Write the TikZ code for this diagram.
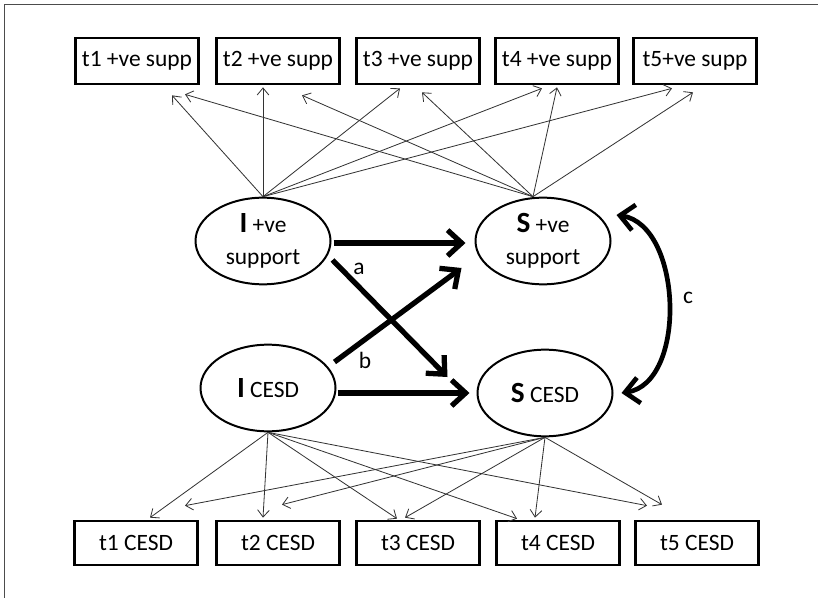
\documentclass[tikz,border=0pt]{standalone}
\usepackage{fontspec}
\setmainfont{Carlito}
\usetikzlibrary{arrows.meta,shapes.geometric}

\begin{document}
\begin{tikzpicture}[x=0.03cm,y=-0.03cm,
	font=\fontsize{20}{27}\selectfont,
	latent/.style={draw,ellipse,line width=1.7pt,inner sep=0pt,
		minimum width=4.05cm,minimum height=2.6cm,align=center},
	obsbox/.style={draw,rectangle,line width=2.3pt,inner sep=0pt,
		minimum width=3.7cm,minimum height=1.38cm},
	loading/.style={-{Straight Barb[length=6pt,width=10pt]},line width=0.7pt,draw=black!80},
	regpath/.style={-{Straight Barb[length=12pt,width=22pt]},line width=4.5pt},
	corr/.style={{Straight Barb[length=12pt,width=22pt]}-{Straight Barb[length=12pt,width=22pt]},
		line width=4pt}]
\useasboundingbox (0,0) rectangle (818,598);
\draw[black!70,line width=0.8pt] (4,598) -- (4,4) -- (818,4);
\def\big#1{{\fontsize{25}{27}\selectfont\bfseries #1}}

% observed boxes
\foreach \cx/\txt [count=\i] in {137/t1 +ve supp,278/t2 +ve supp,418/t3 +ve supp,
		557/t4 +ve supp,695/t5+ve supp}{
	\node[obsbox] (p\i) at (\cx,61) {\txt};
}
\foreach \cx [count=\i] in {136,278,418,558,697}{
	\node[obsbox,minimum height=1.32cm] (d\i) at (\cx,543) {t\i\ CESD};
}

% growth factors
\node[latent] (Isup) at (263,241) {\big{I} +ve\\support};
\node[latent] (Ssup) at (543,241) {\big{S} +ve\\support};
\node[latent] (Icesd) at (268,388) {\big{I} CESD};
\node[latent] (Scesd) at (545,393) {\big{S} CESD};
\coordinate (Itop) at (Isup.north);
\coordinate (Stop) at ([shift={(-10,0)}]Ssup.north);

% loadings
\foreach \i/\dx/\dy in {1/35/10,2/-15/2,3/-18/3,4/-15/3,5/-23/3}
	\draw[loading] (Itop) -- ([shift={(\dx,\dy)}]p\i.south);
\foreach \i/\dx/\dy in {1/48/9,2/24/10,3/4/7,4/0/2,5/-2/7}
	\draw[loading] (Stop) -- ([shift={(\dx,\dy)}]p\i.south);
\foreach \i/\dx/\dy in {1/14/-2,2/-15/-2,3/-21/-1,4/-41/-1,5/-50/-14}
	\draw[loading] (Icesd.south) -- ([shift={(\dx,\dy)}]d\i.north);
\foreach \i/\dx/\dy in {1/49/-14,2/4/-15,3/-13/-2,4/-23/-2,5/-35/-15}
	\draw[loading] (Scesd.south) -- ([shift={(\dx,\dy)}]d\i.north);

% structural paths
\draw[regpath] ([shift={(2,2)}]Isup.east) -- ([shift={(-9,2)}]Ssup.west);
\draw[regpath] ([shift={(1,19)}]Isup.east) -- ([shift={(-29,-16)}]Scesd.west);
\draw[regpath] ([shift={(-2,-26)}]Icesd.east) -- ([shift={(-13,27)}]Ssup.west);
\draw[regpath] ([shift={(1,5)}]Icesd.east) -- ([shift={(-7,0)}]Scesd.west);
\draw[corr] ([shift={(5,-26)}]Ssup.east) .. controls +(66,10) and +(66,-10) .. ([shift={(8,0)}]Scesd.east);

\node (la) at (359,269) {a};
\node (lb) at (365,360) {b};
\node (lc) at (688,298) {c};
\end{tikzpicture}
\end{document}
